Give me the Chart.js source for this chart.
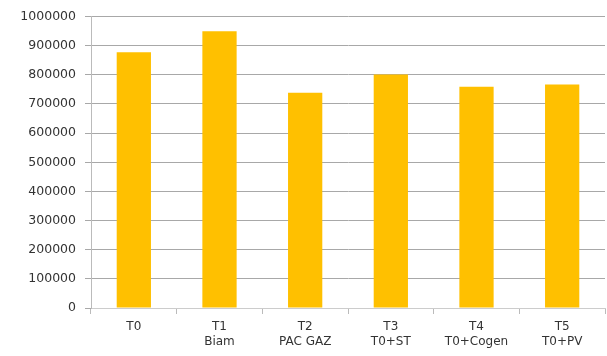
<!DOCTYPE html>
<html>
<head>
<meta charset="utf-8">
<script src="https://cdn.jsdelivr.net/npm/chart.js@4.4.0/dist/chart.umd.min.js"></script>
<style>
  html, body { margin: 0; padding: 0; background: #fff; }
  #wrap { width: 607px; height: 356px; }
</style>
</head>
<body>
<div id="wrap"><canvas id="myChart"></canvas></div>
<script>
// data
var scenarios = [['T0'], ['T1', 'Biam'], ['T2', 'PAC GAZ'], ['T3', 'T0+ST'], ['T4', 'T0+Cogen'], ['T5', 'T0+PV']];
var costs = [877000, 949000, 738000, 801000, 759000, 767000];
var yMin = 0;
var yMax = 1000000;
var yStep = 100000;

function createChart(labels, data, ctx, color) {
    'use strict'

    Chart.defaults.font.family = '"DejaVu Sans", sans-serif';
    Chart.defaults.color = '#333';

    var myChart = new Chart(ctx, {
        type: 'bar',
        data: {
            labels: labels,
            datasets: [{
                data: data,
                backgroundColor: color,
                borderWidth: 0,
                barPercentage: 0.4,
                categoryPercentage: 1.0
            }]
        },
        options: {
            responsive: true,
            maintainAspectRatio: false,
            animation: false,
            layout: { padding: { top: 8, right: 2, left: 0, bottom: 0 } },
            plugins: {
                legend: { display: false },
                tooltip: { enabled: false }
            },
            scales: {
                x: {
                    offset: true,
                    grid: {
                        offset: true,
                        drawOnChartArea: false,
                        tickLength: 6,
                        color: '#bbb'
                    },
                    border: { color: '#ccc' },
                    ticks: { font: { size: 12 }, padding: 6, maxRotation: 0 },
                    afterFit: function (scale) { scale.height = 48; }
                },
                y: {
                    min: yMin,
                    max: yMax,
                    ticks: {
                        stepSize: yStep,
                        font: { size: 12.5 },
                        padding: 9,
                        callback: function (v) { return String(v); }
                    },
                    grid: { color: '#a8a8a8', tickLength: 6, lineWidth: 1 },
                    border: { color: '#bbb' },
                    afterFit: function (scale) { scale.width = 91; }
                }
            }
        }
    });
    return myChart;
}

createChart(scenarios, costs, document.getElementById('myChart'), '#FFC000');
</script>
</body>
</html>
